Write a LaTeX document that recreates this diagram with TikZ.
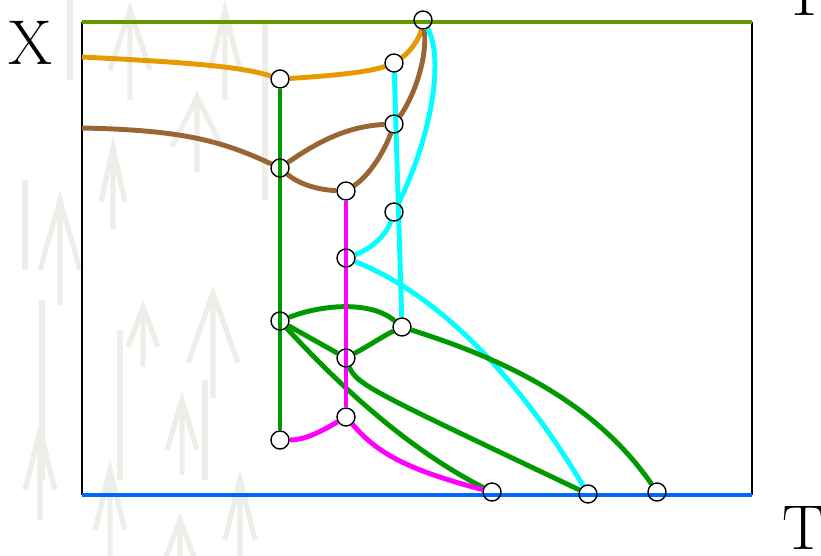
\documentclass[tikz,border=0pt]{standalone}
\usepackage{tikz}
\usetikzlibrary{backgrounds}

\definecolor{olivebar}{RGB}{102,153,0}
\definecolor{bluebar}{RGB}{0,102,255}
\definecolor{orangeline}{RGB}{230,153,0}
\definecolor{brownline}{RGB}{153,102,51}
\definecolor{greenline}{RGB}{0,153,0}
\definecolor{cyanline}{RGB}{0,255,255}
\definecolor{magentaline}{RGB}{255,0,255}
\definecolor{texgray}{RGB}{238,238,233}

\begin{document}
\begin{tikzpicture}[x=0.02cm, y=-0.02cm,
    vtx/.style={circle, draw, line width=0.8pt, inner sep=0pt, minimum size=0.36cm},
    edge/.style={line width=2.8pt},
    bigletter/.style={font=\fontsize{36}{36}\selectfont, inner sep=0pt}]
    \useasboundingbox (0,0) rectangle (821,555);

    % axis letters
    \node[bigletter] (xlab) at (30,43) {X};
    \node[bigletter] (ttop) at (805,-6) {T};
    \node[bigletter] (tbot) at (804,528) {T};

    % vertices
    \node[vtx] (v1) at (423,20) {};
    \node[vtx] (v2) at (394,63) {};
    \node[vtx] (v3) at (280,79) {};
    \node[vtx] (v4) at (394,124) {};
    \node[vtx] (v5) at (280,168) {};
    \node[vtx] (v6) at (346,191) {};
    \node[vtx] (v7) at (394,212) {};
    \node[vtx] (v8) at (346,258) {};
    \node[vtx] (v9) at (280,321) {};
    \node[vtx] (v10) at (402,327) {};
    \node[vtx] (v11) at (346,358) {};
    \node[vtx] (v12) at (346,417) {};
    \node[vtx] (v13) at (280,440) {};
    \node[vtx] (v14) at (492,492) {};
    \node[vtx] (v15) at (588,494) {};
    \node[vtx] (v16) at (657,492) {};
    \coordinate (xo) at (82,57);
    \coordinate (xb) at (82,128);

    \begin{scope}[on background layer]
        % faint texture on the left
        \foreach \ax/\ay/\aw/\ah in {113/147/12/55, 197/97/25/50, 213/293/25/70, 143/307/15/40,
                182/400/15/50, 130/10/20/60, 225/10/15/60, 60/200/20/70, 40/430/15/60,
                240/480/15/60, 110/470/15/60, 180/520/15/40}
            \draw[texgray, line width=3pt] (\ax-\aw,\ay+\ah) -- (\ax,\ay) -- (\ax+\aw,\ay+\ah)
                (\ax,\ay) -- (\ax,\ay+1.5*\ah);
        \foreach \sx/\sy/\sh in {25/180/90, 42/300/180, 120/330/150, 205/380/100, 265/20/180, 70/0/80}
            \draw[texgray, line width=3pt] (\sx,\sy) -- (\sx,\sy+\sh);

        % frame
        \draw[line width=0.8pt] (82,22) -- (82,495) (752,22) -- (752,495);
        \draw[olivebar, line width=2.8pt] (82,22) -- (752,22);
        \draw[bluebar, line width=2.8pt] (82,495) -- (752,495);

        % orange
        \draw[edge, orangeline] (xo) .. controls (180,62) and (240,66) .. (v3);
        \draw[edge, orangeline] (v3) .. controls (330,76) and (370,72) .. (v2);
        \draw[edge, orangeline] (v2) .. controls (410,52) and (420,38) .. (v1);
        % brown
        \draw[edge, brownline] (xb) .. controls (180,130) and (220,140) .. (v5);
        \draw[edge, brownline] (v5) .. controls (320,140) and (350,126) .. (v4);
        \draw[edge, brownline] (v5) .. controls (300,185) and (320,190) .. (v6);
        \draw[edge, brownline] (v6) .. controls (370,175) and (385,150) .. (v4);
        \draw[edge, brownline] (v4) .. controls (412,100) and (428,60) .. (v1);
        % cyan
        \draw[edge, cyanline] (v1) .. controls (445,60) and (430,140) .. (v7);
        \draw[edge, cyanline] (v7) .. controls (385,238) and (368,250) .. (v8);
        \draw[edge, cyanline] (v2) -- (v10);
        \draw[edge, cyanline] (v8) .. controls (440,295) and (520,380) .. (v15);
        % green
        \draw[edge, greenline] (v3) -- (v13);
        \draw[edge, greenline] (v9) .. controls (320,305) and (370,300) .. (v10);
        \draw[edge, greenline] (v9) -- (v11);
        \draw[edge, greenline] (v11) .. controls (370,345) and (385,335) .. (v10);
        \draw[edge, greenline] (v9) .. controls (330,375) and (400,445) .. (v14);
        \draw[edge, greenline] (v11) .. controls (356,385) and (380,395) .. (v15);
        \draw[edge, greenline] (v10) .. controls (490,355) and (590,395) .. (v16);
        % magenta
        \draw[edge, magentaline] (v6) -- (v12);
        \draw[edge, magentaline] (v12) .. controls (320,432) and (305,440) .. (v13);
        \draw[edge, magentaline] (v12) .. controls (375,450) and (400,468) .. (v14);
    \end{scope}
\end{tikzpicture}
\end{document}
